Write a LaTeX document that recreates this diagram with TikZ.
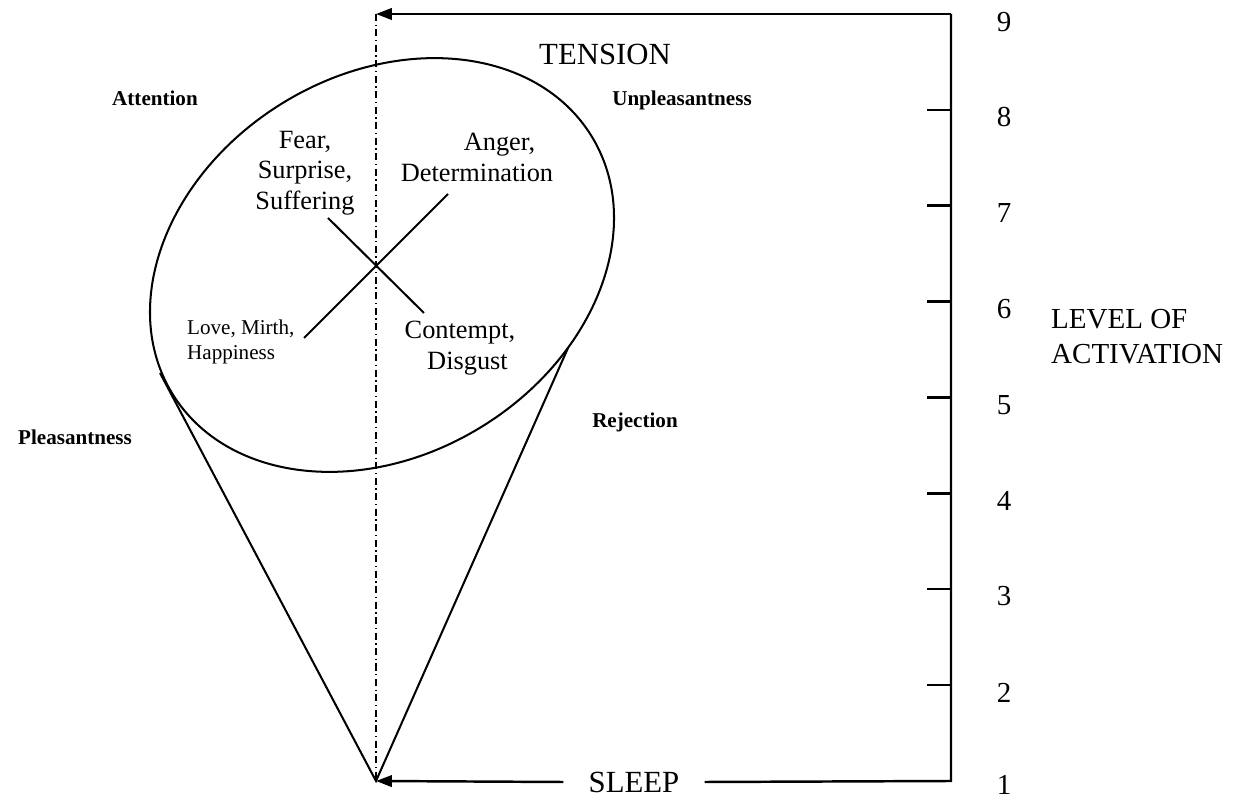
\documentclass[tikz,border=0pt]{standalone}
\usepackage{fontspec}
\setmainfont{Liberation Serif}
\usetikzlibrary{arrows.meta, positioning}

\begin{document}
\begin{tikzpicture}
  \tikzset{
    scalenum/.style={
      font=\fontsize{16.5}{19}\selectfont,
      anchor=center
    },
    capslabel/.style={
      font=\fontsize{17.5}{20}\selectfont
    },
    emotion/.style={
      font=\fontsize{15}{17.4}\selectfont,
      align=center
    },
    smallemotion/.style={
      font=\fontsize{12}{14.2}\selectfont,
      align=left
    },
    dimension/.style={
      font=\fontsize{12}{14}\selectfont\bfseries
    },
    frameline/.style={line width=1.4pt},
    outline/.style={line width=1.15pt},
    arrowend/.style={-{Triangle[length=9pt,width=6.5pt]}},
    axisline/.style={
      line width=0.8pt,
      dash pattern=on 4pt off 2pt on 0.8pt off 2pt
    }
  }
  \useasboundingbox (0,0) rectangle (24.92,16);

  % Corners of the activation frame
  \coordinate (tensiontip) at (7.52,15.72);
  \coordinate (topright) at (19.02,15.72);
  \coordinate (bottomright) at (19.02,0.38);
  \coordinate (apex) at (7.52,0.38);

  % Frame with the two arrows
  \node[capslabel, fill=white, inner xsep=0.5cm] (sleep) at (12.68,0.36) {SLEEP};
  \draw[frameline, arrowend] (topright) -- (tensiontip);
  \draw[frameline] (topright) -- (bottomright) -- (sleep.east);
  \draw[frameline, arrowend] (sleep.west) -- (apex);
  \node[capslabel] (tension) at (12.1,14.91) {TENSION};

  % Vertical axis
  \draw[axisline] (tensiontip) -- (apex);

  % Ticks of the activation scale
  \draw[frameline] (18.54,2.30) -- (19.02,2.30);
  \draw[frameline] (18.54,4.22) -- (19.02,4.22);
  \draw[frameline] (18.54,6.13) -- (19.02,6.13);
  \draw[frameline] (18.54,8.05) -- (19.02,8.05);
  \draw[frameline] (18.54,9.97) -- (19.02,9.97);
  \draw[frameline] (18.54,11.89) -- (19.02,11.89);
  \draw[frameline] (18.54,13.80) -- (19.02,13.80);

  % Level numbers
  \node[scalenum] (num1) at (20.08,0.30) {1};
  \node[scalenum] (num2) at (20.08,2.15) {2};
  \node[scalenum] (num3) at (20.08,4.07) {3};
  \node[scalenum] (num4) at (20.08,5.98) {4};
  \node[scalenum] (num5) at (20.08,7.90) {5};
  \node[scalenum] (num6) at (20.08,9.82) {6};
  \node[scalenum] (num7) at (20.08,11.74) {7};
  \node[scalenum] (num8) at (20.08,13.65) {8};
  \node[scalenum] (num9) at (20.08,15.55) {9};
  \node[scalenum, anchor=west, align=left, font=\fontsize{16.5}{19.9}\selectfont]
    (level) at (20.9,9.27) {LEVEL OF\\ACTIVATION};

  % Ellipse and cone
  \coordinate (hub) at (7.64,10.7);
  \draw[outline, rotate around={31.6:(hub)}] (hub) ellipse [x radius=4.92, y radius=3.8];
  \coordinate (leftrim) at (3.2,8.54);
  \coordinate (rightrim) at (11.36,9.04);
  \draw[outline] (leftrim) -- (apex) -- (rightrim);

  % Cross of the two emotion axes
  \coordinate (fearend) at (6.56,11.64);
  \coordinate (contemptend) at (8.48,9.74);
  \coordinate (angerend) at (8.96,12.12);
  \coordinate (loveend) at (6.08,9.24);
  \draw[outline] (fearend) -- (contemptend);
  \draw[outline] (loveend) -- (angerend);

  % Emotion labels
  \node[emotion] (fear) at (6.1,12.54) {Fear,\\Surprise,\\Suffering};
  \node[emotion] (anger) at (9.54,12.85) {\hspace*{0.9cm}Anger,\\Determination};
  \node[smallemotion, anchor=west] (love) at (3.62,9.17) {Love, Mirth,\\Happiness};
  \node[emotion] (contempt) at (9.2,9.04) {Contempt,\\\hspace*{0.3cm}Disgust};

  % Dimension labels
  \node[dimension] (attention) at (3.1,14.03) {Attention};
  \node[dimension] (unpleasant) at (13.64,14.0) {Unpleasantness};
  \node[dimension] (pleasant) at (1.5,7.26) {Pleasantness};
  \node[dimension] (rejection) at (12.7,7.56) {Rejection};
\end{tikzpicture}
\end{document}
